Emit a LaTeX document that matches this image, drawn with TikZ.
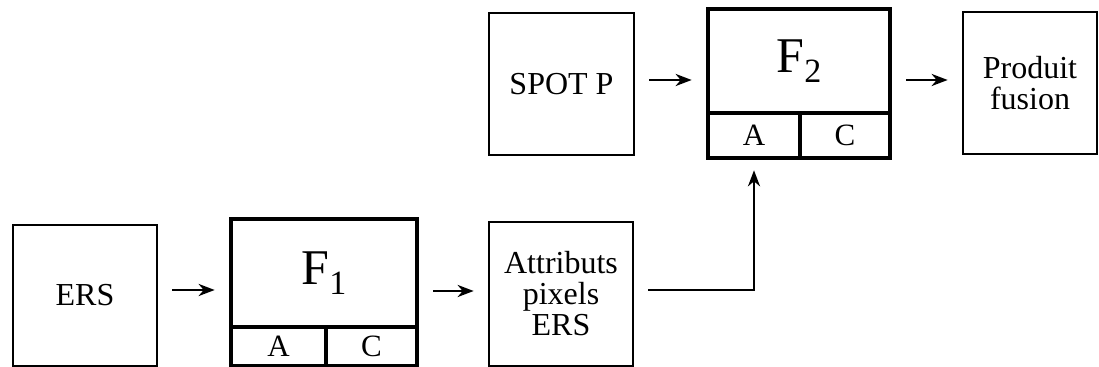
\documentclass[tikz,border=0pt]{standalone}
\usepackage{fontspec}
\setmainfont{Liberation Serif}
\usetikzlibrary{arrows.meta}

\newcommand{\ind}[1]{\raisebox{-5pt}{\fontsize{17}{17}\selectfont #1}}

\begin{document}
\begin{tikzpicture}[x=0.5pt, y=-0.5pt,
  boite/.style={draw, line width=1.3pt, inner sep=0pt, align=center, font=\fontsize{16}{15.5}\selectfont},
  filtre/.style={draw, line width=2.3pt, inner sep=0pt, font=\fontsize{25}{25}\selectfont},
  case/.style={draw, line width=2.3pt, inner sep=0pt, font=\fontsize{15.5}{15.5}\selectfont},
  fleche/.style={line width=1.4pt, -{Stealth[length=8pt,width=6pt,inset=2.5pt]}, shorten <=7pt, shorten >=7pt}]
\useasboundingbox (0,0) rectangle (1099,367);
% rangee du bas
\node[boite, minimum width=72pt, minimum height=70.5pt] (ers) at (85,295.5) {ERS};
\node[filtre, minimum width=93pt, minimum height=54pt] (f1) at (324,273) {F\ind{1}};
\node[case, minimum width=47.5pt, minimum height=19.5pt] (f1a) at (278.5,346.5) {A};
\node[case, minimum width=45.5pt, minimum height=19.5pt] (f1c) at (371.5,346.5) {C};
\node[boite, minimum width=72pt, minimum height=72pt] (attr) at (561,294) {Attributs\\pixels\\ERS};
% rangee du haut
\node[boite, minimum width=72.5pt, minimum height=71pt] (spot) at (561.5,84) {SPOT P};
\node[filtre, minimum width=91pt, minimum height=52pt] (f2) at (799,61) {F\ind{2}};
\node[case, minimum width=46pt, minimum height=22.5pt] (f2a) at (754,135.5) {A};
\node[case, minimum width=45pt, minimum height=22.5pt] (f2c) at (845,135.5) {C};
\node[boite, minimum width=67pt, minimum height=71pt] (prod) at (1030,83) {Produit\\fusion};
% fleches
\draw[fleche] ([yshift=2.75pt]ers.east) -- ([yshift=2.75pt]ers.east -| f1.west);
\draw[fleche] ([yshift=1.5pt]attr.west -| f1.east) -- ([yshift=1.5pt]attr.west);
\draw[fleche] ([yshift=2pt]spot.east) -- ([yshift=2pt]spot.east -| f2.west);
\draw[fleche] ([yshift=1.5pt]prod.west -| f2.east) -- ([yshift=1.5pt]prod.west);
\draw[fleche, line width=1.2pt, shorten >=5pt] ([yshift=2pt]attr.east) -| (f2a.south);
\end{tikzpicture}
\end{document}
